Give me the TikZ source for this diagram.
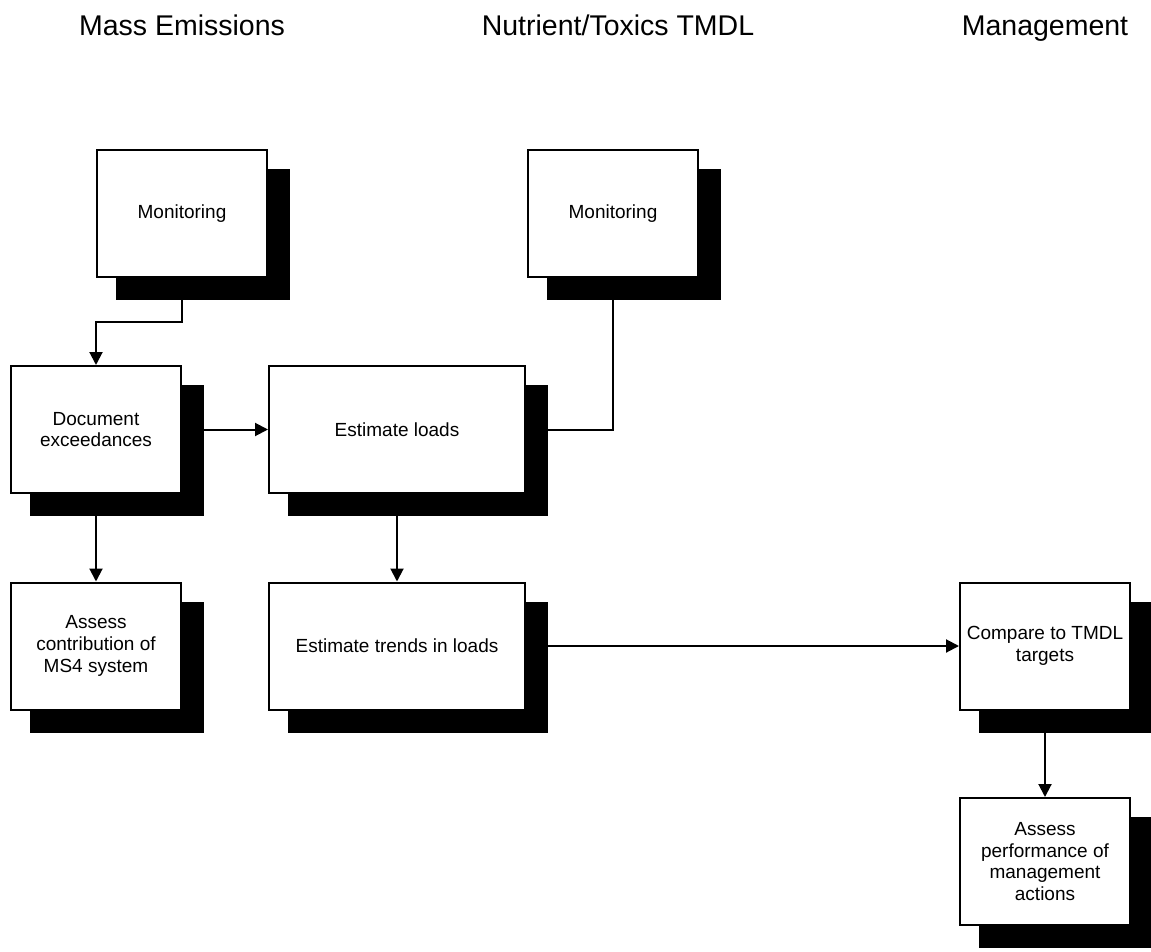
\documentclass[tikz,border=0pt]{standalone}
\usepackage{fontspec}
\setmainfont{Liberation Sans}
\usetikzlibrary{arrows.meta,shadows}
\begin{document}
\begin{tikzpicture}[x=0.5pt,y=-0.5pt,
  box/.style={draw,fill=white,line width=1pt,align=center,
    minimum width=85pt,minimum height=63.5pt,inner sep=2pt,
    font=\fontsize{9.5}{10.9}\selectfont,
    drop shadow={shadow xshift=10.5pt,shadow yshift=-10.5pt,
      fill=black,draw=black,line width=2pt,opacity=1}},
  wide/.style={box,minimum width=128pt},
  head/.style={anchor=base,font=\fontsize{14.25}{17}\selectfont},
  link/.style={line width=1pt},
  arrow/.style={link,-{Triangle[length=6.5pt,width=6.5pt]}}]
  \useasboundingbox (0,0) rectangle (1151,952);
  % column headings
  \node[head] (h1) at (182,36) {Mass Emissions};
  \node[head] (h2) at (618,36) {Nutrient/Toxics TMDL};
  \node[head] (h3) at (1045,36) {Management};
  % boxes
  \node[box] (mon1) at (182,213.5) {Monitoring};
  \node[box] (mon2) at (613,213.5) {Monitoring};
  \node[box] (doc) at (96,429.5) {Document\\exceedances};
  \node[wide] (loads) at (397,429.5) {Estimate loads};
  \node[box] (assess) at (96,646) {Assess\\contribution of\\MS4 system};
  \node[wide] (trends) at (397,646) {Estimate trends in loads};
  \node[box] (compare) at (1045,646) {Compare to TMDL\\targets};
  \node[box] (perf) at (1045,861.5) {Assess\\performance of\\management\\actions};
  % connectors
  \draw[arrow] (mon1.south) -- ++(0,43.5) -| (doc.north);
  \draw[link] (mon2.south) |- (loads.east);
  \draw[arrow] (doc.east) -- (loads.west);
  \draw[arrow] (doc.south) -- (assess.north);
  \draw[arrow] (loads.south) -- (trends.north);
  \draw[arrow] (trends.east) -- (compare.west);
  \draw[arrow] (compare.south) -- (perf.north);
\end{tikzpicture}
\end{document}
